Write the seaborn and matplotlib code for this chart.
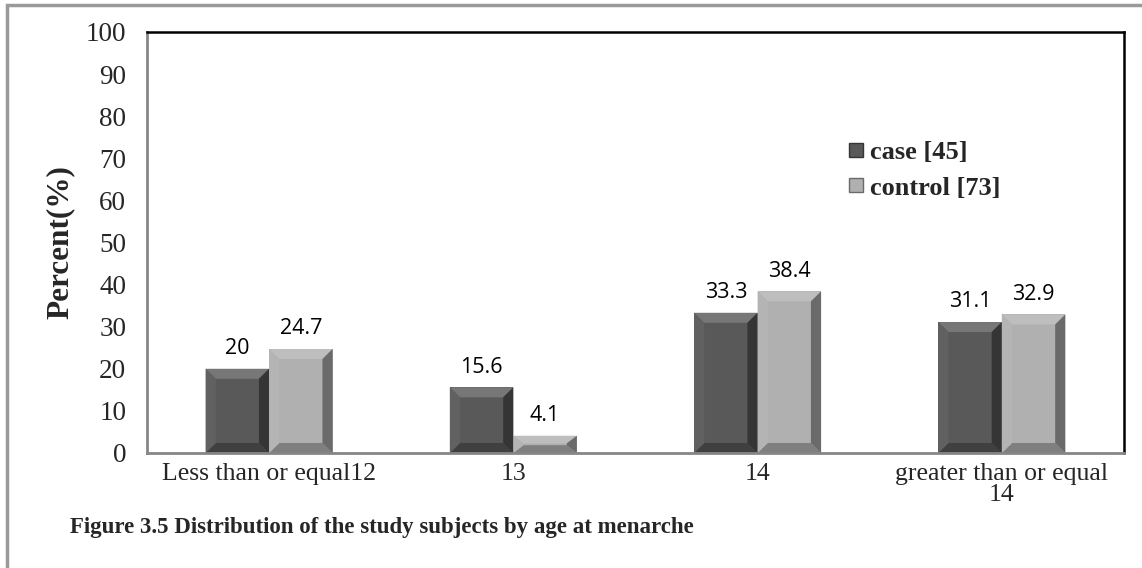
import matplotlib
matplotlib.use("Agg")
import matplotlib.pyplot as plt
from matplotlib.patches import Polygon, Rectangle
from matplotlib.lines import Line2D
import matplotlib.colors as mcolors
import numpy as np
import pandas as pd
import seaborn as sns

# Age-at-menarche groups and percentages per study group
categories = ["Less than or equal12", "13", "14", "greater than or equal\n14"]
groups = ["case [45]", "control [73]"]
case_pct = [20, 15.6, 33.3, 31.1]
control_pct = [24.7, 4.1, 38.4, 32.9]
y_ticks = [0, 10, 20, 30, 40, 50, 60, 70, 80, 90, 100]
caption = "Figure 3.5 Distribution of the study subjects by age at menarche"

colors = {"case [45]": "#595959", "control [73]": "#b0b0b0"}

df = pd.DataFrame({
    "category": categories * 2,
    "group": [groups[0]] * len(categories) + [groups[1]] * len(categories),
    "percent": case_pct + control_pct,
})

sns.set_style("white")
plt.rcParams["font.family"] = ["Liberation Serif", "DejaVu Serif"]

fig = plt.figure(figsize=(11.42, 5.68), dpi=100)
ax = fig.add_axes([0.1287, 0.2025, 0.9842 - 0.1287, 0.9437 - 0.2025])

sns.barplot(data=df, x="category", y="percent", hue="group", order=categories,
            hue_order=groups, palette=colors, width=0.52, gap=0,
            saturation=1, linewidth=0, legend=False, ax=ax)

ax.set_ylim(0, 100)
ax.set_xlim(-0.5, len(categories) - 0.5)
ax.set_yticks(y_ticks)
ax.set_yticklabels([str(t) for t in y_ticks], fontsize=19.5)

# Category tick marks sit on group boundaries; labels sit under group centres
ax.set_xticks(np.arange(len(categories) + 1) - 0.5)
ax.set_xticklabels([])
ax.set_xticks(np.arange(len(categories)), minor=True)
ax.set_xticklabels(categories, minor=True, fontsize=18.5, linespacing=0.95)
ax.tick_params(axis="x", which="minor", length=0, pad=7)
ax.tick_params(axis="x", which="major", length=7, width=1.5, color="#868686", direction="out")
ax.tick_params(axis="y", length=7, width=1.5, color="#868686", direction="out", pad=8)
ax.set_xlabel("")
ax.set_ylabel("Percent(%)", fontsize=22.5, fontweight="bold", labelpad=8)

for side in ["left", "bottom"]:
    ax.spines[side].set_color("#868686")
    ax.spines[side].set_linewidth(2)
for side in ["top", "right"]:
    ax.spines[side].set_color("black")
    ax.spines[side].set_linewidth(1.8)
    ax.spines[side].set_visible(True)

# Bevelled faces on each bar, derived from the bar geometry
px_per_unit_y = ax.get_window_extent().height / 100.0
def shade(c, f):
    r, g, b = mcolors.to_rgb(c)
    if f >= 1:
        return (r + (1 - r) * (f - 1), g + (1 - g) * (f - 1), b + (1 - b) * (f - 1))
    return (r * f, g * f, b * f)

bars = list(ax.patches)
for p in bars:
    x0, y0 = p.get_x(), p.get_y()
    w, h = p.get_width(), p.get_height()
    if h <= 0:
        continue
    base = p.get_facecolor()
    bx = w * 0.16
    by = min(10.0 / px_per_unit_y, h * 0.45)
    x1, y1 = x0 + w, y0 + h
    faces = [
        ([(x0, y1), (x1, y1), (x1 - bx, y1 - by), (x0 + bx, y1 - by)], 1.18),
        ([(x0, y0), (x1, y0), (x1 - bx, y0 + by), (x0 + bx, y0 + by)], 0.72),
        ([(x0, y0), (x0, y1), (x0 + bx, y1 - by), (x0 + bx, y0 + by)], 1.05),
        ([(x1, y0), (x1, y1), (x1 - bx, y1 - by), (x1 - bx, y0 + by)], 0.6),
    ]
    for pts, f in faces:
        ax.add_patch(Polygon(pts, closed=True, facecolor=shade(base, f),
                             edgecolor="none", zorder=p.get_zorder() + 0.1))

for cont in ax.containers:
    ax.bar_label(cont, labels=[f"{v:g}" for v in cont.datavalues], padding=7,
                 fontsize=15.5, fontfamily="Open Sans", color="black")

handles = [Line2D([0], [0], marker="s", linestyle="none", markersize=10,
                  markerfacecolor=colors[g], markeredgecolor=shade(colors[g], 0.6))
           for g in groups]
ax.legend(handles, groups, loc="upper left", bbox_to_anchor=(0.674, 0.798),
          frameon=False, handletextpad=-0.45, labelspacing=0.45,
          prop={"family": "Liberation Serif", "weight": "bold", "size": 19})

fig.text(70 / 1142, 1 - 527 / 568, caption, fontsize=16.5, fontweight="bold",
         ha="left", va="center")

# Outer page frame
fig.patches.append(Rectangle((7 / 1142, -0.05), 1.2, 1 - 5 / 568 + 0.05,
                             transform=fig.transFigure, fill=False,
                             edgecolor="#9a9a9a", linewidth=2.5))

fig.savefig("out.png", dpi=100)
